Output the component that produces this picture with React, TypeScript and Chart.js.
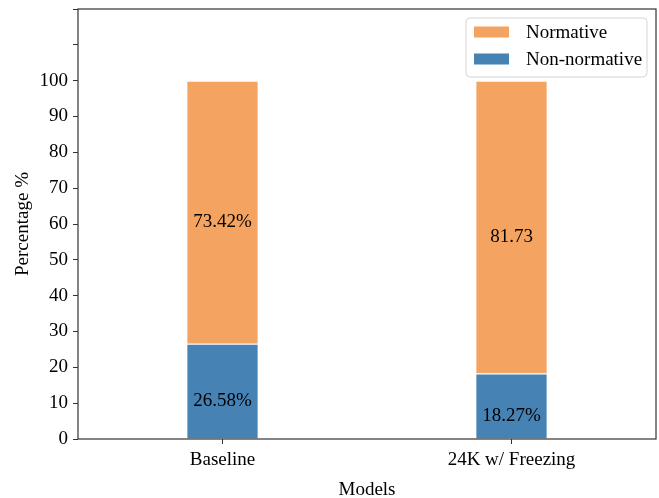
import React, { useEffect, useRef } from "react";
import { Chart, registerables } from "chart.js";

Chart.register(...registerables);

const categories = ["Baseline", "24K w/ Freezing"];
const nonNormative = [26.58, 18.27];
const normative = [73.42, 81.73];
const nonNormativeLabels = ["26.58%", "18.27%"];
const normativeLabels = ["73.42%", "81.73"];
const yTicksLabeled = [0, 10, 20, 30, 40, 50, 60, 70, 80, 90, 100];

const ORANGE = "#F4A460";
const BLUE = "#4682B4";
const FONT = "'Liberation Serif', 'Times New Roman', serif";
const FS = 19;

export default function App() {
  const ref = useRef<HTMLCanvasElement | null>(null);

  useEffect(() => {
    document.body.style.margin = "0";
    const canvas = ref.current;
    if (!canvas) return;

    const overlay = {
      id: "overlay",
      afterDatasetsDraw(chart: any) {
        const ctx = chart.ctx;
        ctx.save();
        ctx.fillStyle = "#000";
        ctx.font = `${FS}px ${FONT}`;
        ctx.textAlign = "center";
        ctx.textBaseline = "top";
        const labelsets = [nonNormativeLabels, normativeLabels];
        chart.data.datasets.forEach((ds: any, di: number) => {
          const meta = chart.getDatasetMeta(di);
          meta.data.forEach((bar: any, i: number) => {
            const cy = (bar.y + bar.base) / 2;
            ctx.fillText(labelsets[di][i], bar.x, cy);
          });
        });
        ctx.restore();
      },
      afterDraw(chart: any) {
        const ctx = chart.ctx;
        const a = chart.chartArea;
        ctx.save();
        ctx.strokeStyle = "#333";
        ctx.lineWidth = 1.2;
        ctx.strokeRect(a.left, a.top, a.right - a.left, a.bottom - a.top);
        // legend
        const lx = 466, ly = 18, lw = 181, lh = 59, r = 4;
        ctx.fillStyle = "rgba(255,255,255,0.8)";
        ctx.strokeStyle = "#d5d5d5";
        ctx.lineWidth = 1;
        ctx.beginPath();
        ctx.moveTo(lx + r, ly);
        ctx.lineTo(lx + lw - r, ly);
        ctx.quadraticCurveTo(lx + lw, ly, lx + lw, ly + r);
        ctx.lineTo(lx + lw, ly + lh - r);
        ctx.quadraticCurveTo(lx + lw, ly + lh, lx + lw - r, ly + lh);
        ctx.lineTo(lx + r, ly + lh);
        ctx.quadraticCurveTo(lx, ly + lh, lx, ly + lh - r);
        ctx.lineTo(lx, ly + r);
        ctx.quadraticCurveTo(lx, ly, lx + r, ly);
        ctx.closePath();
        ctx.fill();
        ctx.stroke();
        const items = [
          { label: chart.data.datasets[1].label, color: ORANGE, y: 32 },
          { label: chart.data.datasets[0].label, color: BLUE, y: 59 },
        ];
        ctx.font = `${FS}px ${FONT}`;
        ctx.textAlign = "left";
        ctx.textBaseline = "middle";
        items.forEach((it) => {
          ctx.fillStyle = it.color;
          ctx.fillRect(474, it.y - 5.5, 35, 11);
          ctx.fillStyle = "#000";
          ctx.fillText(it.label, 526, it.y + 1);
        });
        ctx.restore();
      },
    };

    const chart = new Chart(canvas, {
      type: "bar",
      data: {
        labels: categories,
        datasets: [
          {
            label: "Non-normative",
            data: nonNormative,
            backgroundColor: BLUE,
            borderColor: "#ffffff",
            borderWidth: 1,
            barPercentage: 0.25,
            categoryPercentage: 1,
          },
          {
            label: "Normative",
            data: normative,
            backgroundColor: ORANGE,
            borderColor: "#ffffff",
            borderWidth: 1,
            barPercentage: 0.25,
            categoryPercentage: 1,
          },
        ],
      },
      options: {
        animation: false,
        responsive: false,
        devicePixelRatio: 1,
        layout: { padding: { top: 9, right: 3, left: 12, bottom: 0 } },
        plugins: {
          legend: { display: false },
          tooltip: { enabled: false },
        },
        scales: {
          x: {
            stacked: true,
            offset: true,
            grid: {
              display: true,
              drawOnChartArea: false,
              tickLength: 5,
              color: "#333",
              offset: false,
            },
            border: { display: false },
            ticks: { color: "#000", font: { family: FONT, size: FS }, padding: 5 },
            title: {
              display: true,
              text: "Models",
              color: "#000",
              font: { family: FONT, size: FS, lineHeight: 0.8 },
              padding: { top: 10, bottom: 0 },
            },
            afterFit(scale: any) {
              scale.height = 59;
              scale.paddingLeft = 0;
              scale.paddingRight = 0;
            },
          },
          y: {
            stacked: true,
            min: 0,
            max: 120,
            grid: {
              display: true,
              drawOnChartArea: false,
              tickLength: 5,
              color: "#333",
            },
            border: { display: false },
            ticks: {
              stepSize: 10,
              color: "#000",
              font: { family: FONT, size: FS },
              padding: 5,
              callback: (v: any) => (yTicksLabeled.includes(Number(v)) ? String(v) : ""),
            },
            title: {
              display: true,
              text: "Percentage %",
              color: "#000",
              font: { family: FONT, size: FS },
              padding: { top: 0, bottom: 8 },
            },
            afterFit(scale: any) {
              scale.width = 66;
              scale.paddingTop = 0;
              scale.paddingBottom = 0;
            },
          },
        },
      },
      plugins: [overlay],
    });

    return () => chart.destroy();
  }, []);

  return (
    <div style={{ width: 659, height: 498 }}>
      <canvas ref={ref} width={659} height={498} style={{ display: "block" }} />
    </div>
  );
}
